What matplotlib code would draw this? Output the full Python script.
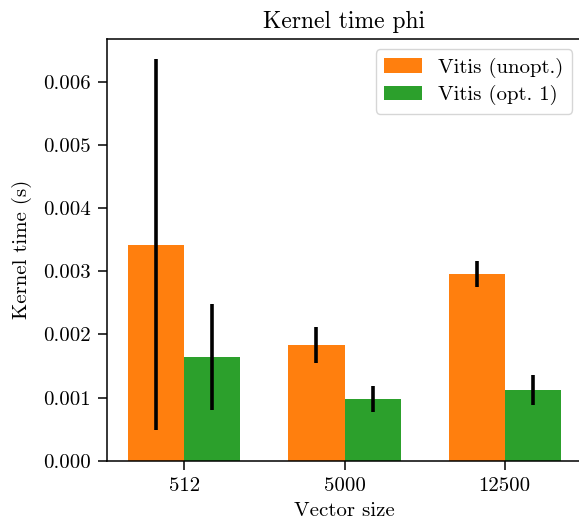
import numpy as np
import matplotlib
matplotlib.use("Agg")
import matplotlib.pyplot as plt

plt.rcParams["font.family"] = ["cmr10", "DejaVu Serif"]
plt.rcParams["mathtext.fontset"] = "cm"
plt.rcParams["axes.formatter.use_mathtext"] = True
plt.rcParams["font.size"] = 15

sizes = ["512", "5000", "12500"]
unopt_mean = [0.00342, 0.00183, 0.00296]
unopt_err = [0.00294, 0.00028, 0.00021]
opt1_mean = [0.00164, 0.00098, 0.00112]
opt1_err = [0.00084, 0.00020, 0.00023]

fig = plt.figure(figsize=(5.79, 5.26), dpi=100)
ax = fig.add_axes([0.184, 0.124, 0.822, 0.802])

x = np.arange(len(sizes))
w = 0.35
ax.bar(x - w / 2, unopt_mean, w, yerr=unopt_err, color="#ff7f0e",
       label="Vitis (unopt.)", error_kw=dict(elinewidth=2.6, ecolor="black", capsize=0))
ax.bar(x + w / 2, opt1_mean, w, yerr=opt1_err, color="#2ca02c",
       label="Vitis (opt. 1)", error_kw=dict(elinewidth=2.6, ecolor="black", capsize=0))

ax.set_xticks(x)
ax.set_xticklabels(sizes)
ax.set_xlabel("Vector size", labelpad=5)
ax.set_ylabel("Kernel time (s)", labelpad=8)
ax.set_title("Kernel time phi", pad=8, fontsize=17)
ax.yaxis.set_major_formatter(matplotlib.ticker.FormatStrFormatter("%.3f"))
for s in ax.spines.values():
    s.set_linewidth(1.1)
# the right edge of the axes falls outside the canvas
ax.spines["right"].set_visible(False)
ax.tick_params(width=1.1, length=6.5, pad=5)
ax.legend(loc="upper right", handlelength=1.8, handleheight=0.7, handletextpad=0.8,
          borderpad=0.4, labelspacing=0.35, framealpha=0.8)

fig.savefig("out.png", dpi=100)
